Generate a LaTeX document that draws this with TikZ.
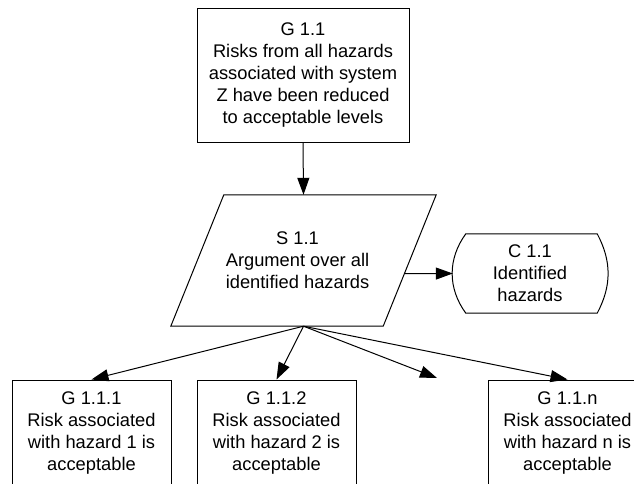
\documentclass[tikz,border=0pt]{standalone}
\usepackage{fontspec}
\setmainfont{Liberation Sans}
\usetikzlibrary{arrows.meta,calc}
\tikzset{
  gsn/.style={font=\fontsize{18.3}{22}\selectfont, align=center, inner sep=0pt},
  goalbox/.style={gsn, draw, line width=1pt, minimum width=212pt, minimum height=133pt},
  subgoal/.style={gsn, draw, line width=1pt, minimum width=159pt, minimum height=106pt},
  link/.style={line width=1pt, -{Triangle[length=17pt,width=12pt]}},
  outline/.style={line width=1pt}
}
\begin{document}
\begin{tikzpicture}[x=1pt,y=-1pt]
\useasboundingbox (0,0) rectangle (634,484);

% top goal
\node[goalbox] (G11) at (303,75.5)
  {G 1.1\\Risks from all hazards\\associated with system\\Z have been reduced\\to acceptable levels};

% strategy (parallelogram drawn around an invisible frame)
\node[gsn, minimum width=265pt, minimum height=131pt,
      label={[gsn,xshift=-6pt]center:{S 1.1\\Argument over all\\identified hazards}}]
  (S11) at (303.5,260.5) {};
\draw[outline] ([xshift=53pt]S11.north west) -- (S11.north east)
  -- ([xshift=-53pt]S11.south east) -- (S11.south west) -- cycle;

% context
\node[gsn, minimum width=154pt, minimum height=79pt] (C11) at (530,273.5)
  {C 1.1\\Identified\\hazards};
\draw[outline] ([xshift=13pt]C11.north west) -- ([xshift=-10pt]C11.north east)
  to[bend left=28] ([xshift=-10pt]C11.south east)
  -- ([xshift=13pt]C11.south west)
  to[bend left=36] cycle;

% sub-goals
\node[subgoal] (G111) at (91.5,433) {G 1.1.1\\Risk associated\\with hazard 1 is\\acceptable};
\node[subgoal] (G112) at (276.5,433) {G 1.1.2\\Risk associated\\with hazard 2 is\\acceptable};
\node[subgoal] (G11n) at (567.5,433) {G 1.1.n\\Risk associated\\with hazard n is\\acceptable};
\coordinate (more) at (437,378);

% connectors
\coordinate (Sside) at ($(S11.north east)!0.6!([xshift=-53pt]S11.south east)$);
\draw[link] (G11.south) -- (S11.north);
\draw[link] (Sside) -- (C11.west);
\draw[link] (S11.south) -- (G111.north);
\draw[link] (S11.south) -- (G112.north);
\draw[link] (S11.south) -- (more);
\draw[link] (S11.south) -- (G11n.north);
\end{tikzpicture}
\end{document}
